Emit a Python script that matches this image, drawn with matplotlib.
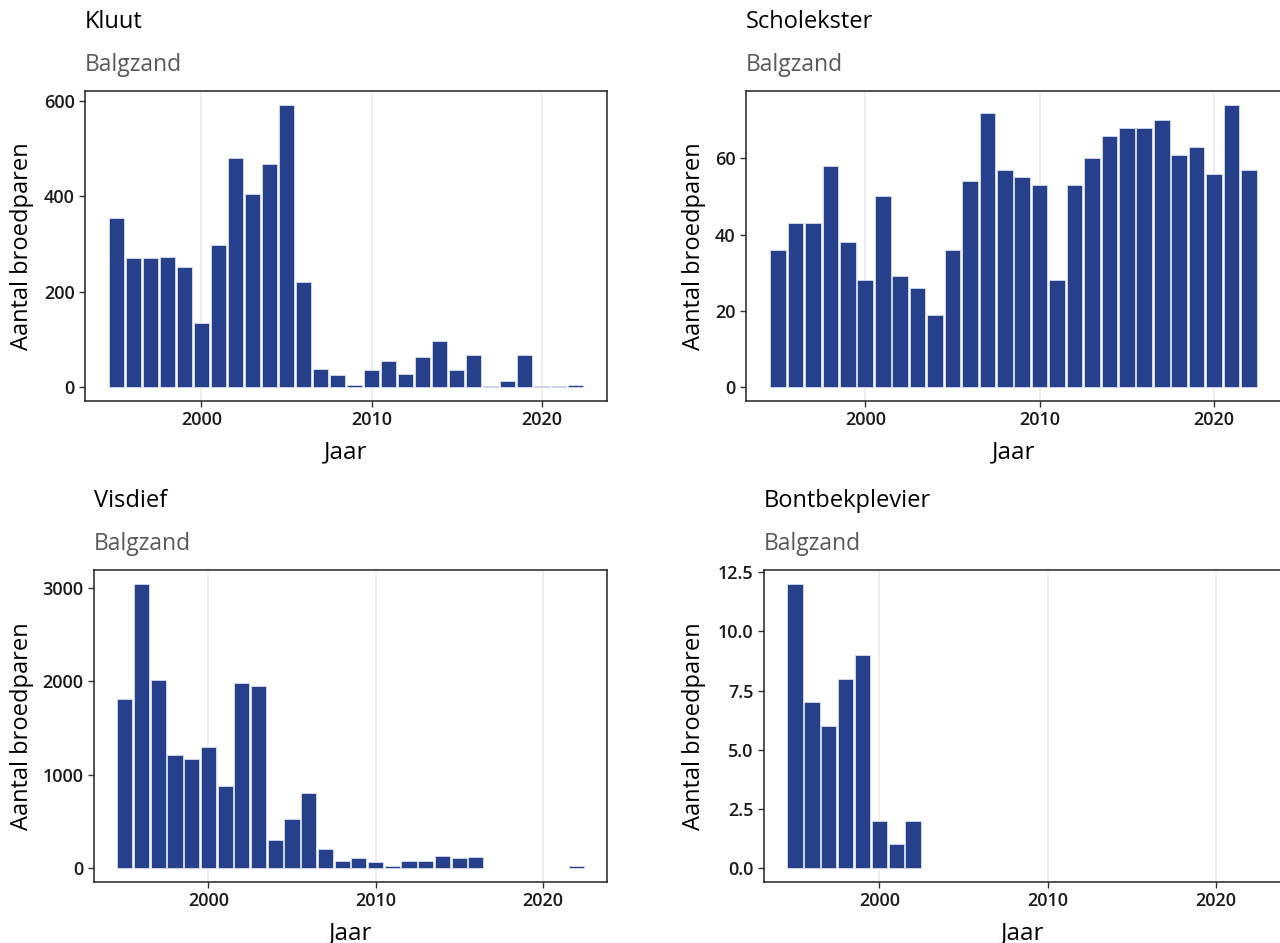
import matplotlib
matplotlib.use("Agg")
import matplotlib.pyplot as plt
import numpy as np

plt.rcParams['font.family'] = ['Open Sans', 'DejaVu Sans']

# data (aantal broedparen per jaar, Balgzand)
years = list(range(1995, 2023))

kluut = [355, 270, 270, 273, 251, 134, 298, 480, 405, 469, 592, 220, 38, 24, 5, 35,
         55, 27, 63, 97, 35, 68, 2, 13, 66, 2, 2, 4]

scholekster = [36, 43, 43, 58, 38, 28, 50, 29, 26, 19, 36, 54, 72, 57, 55, 53,
               28, 53, 60, 66, 68, 68, 70, 61, 63, 56, 74, 57]

visdief = [1810, 3040, 2010, 1205, 1165, 1290, 880, 1980, 1950, 300, 520, 805, 205, 70, 100, 60,
           15, 70, 70, 130, 100, 115, np.nan, np.nan, np.nan, np.nan, np.nan, 15]

bontbek_years = list(range(1995, 2003))
bontbek = [12, 7, 6, 8, 9, 2, 1, 2]

panels = [
    ("Kluut", years, kluut, [0, 200, 400, 600], "{:.0f}"),
    ("Scholekster", years, scholekster, [0, 20, 40, 60], "{:.0f}"),
    ("Visdief", years, visdief, [0, 1000, 2000, 3000], "{:.0f}"),
    ("Bontbekplevier", bontbek_years, bontbek, [0, 2.5, 5, 7.5, 10, 12.5], "{:.1f}"),
]

W, H = 1280, 943
# panel boxes in pixels: left, right, top, bottom
boxes = [(85, 607, 91, 401), (746, 1281, 91, 401),
         (94, 607, 570, 882), (764, 1281, 570, 882)]
ylab_x = [22, 694, 22, 694]

bar_color = "#26408b"
fig = plt.figure(figsize=(W / 100, H / 100), dpi=100)

for (title, xs, ys, yticks, fmt), (l, r, t, b), yx in zip(panels, boxes, ylab_x):
    ax = fig.add_axes([l / W, 1 - b / H, (r - l) / W, (b - t) / H])
    ax.bar(xs, ys, width=0.9, color=bar_color, edgecolor="#d6dcf0", linewidth=0.6, zorder=2)

    ymax = np.nanmax(ys)
    ax.set_ylim(-0.05 * ymax, 1.05 * ymax)
    ax.set_xlim(1994.55 - 1.395, 2022.45 + 1.395)
    ax.set_xticks([2000, 2010, 2020])
    ax.set_yticks(yticks)
    ax.set_yticklabels([fmt.format(v) for v in yticks])
    ax.grid(axis="x", color="#ebebeb", linewidth=1.2, zorder=0)
    ax.set_axisbelow(True)
    for s in ax.spines.values():
        s.set_color("#222222")
        s.set_linewidth(1.1)
    ax.tick_params(length=4.5, width=1, color="#333333", labelsize=13,
                   labelcolor="#1a1a1a", pad=3)
    for lab in ax.get_xticklabels() + ax.get_yticklabels():
        lab.set_fontweight("semibold")

    ax.set_xlabel("Jaar", fontsize=17.5, fontweight="medium")
    ax.xaxis.set_label_coords(0.5, -39 / (b - t))
    ax.set_ylabel("Aantal broedparen", fontsize=17, fontweight="medium")
    ax.yaxis.set_label_coords(-(l - yx) / (r - l), 0.5)
    ax.yaxis.label.set_va("center")

    fig.text(l / W, 1 - (t - 69) / H, title, fontsize=17, color="black",
             ha="left", va="center", fontweight="medium")
    fig.text(l / W, 1 - (t - 26) / H, "Balgzand", fontsize=16.5, color="#595959",
             ha="left", va="center")

fig.savefig("out.png", dpi=100)
